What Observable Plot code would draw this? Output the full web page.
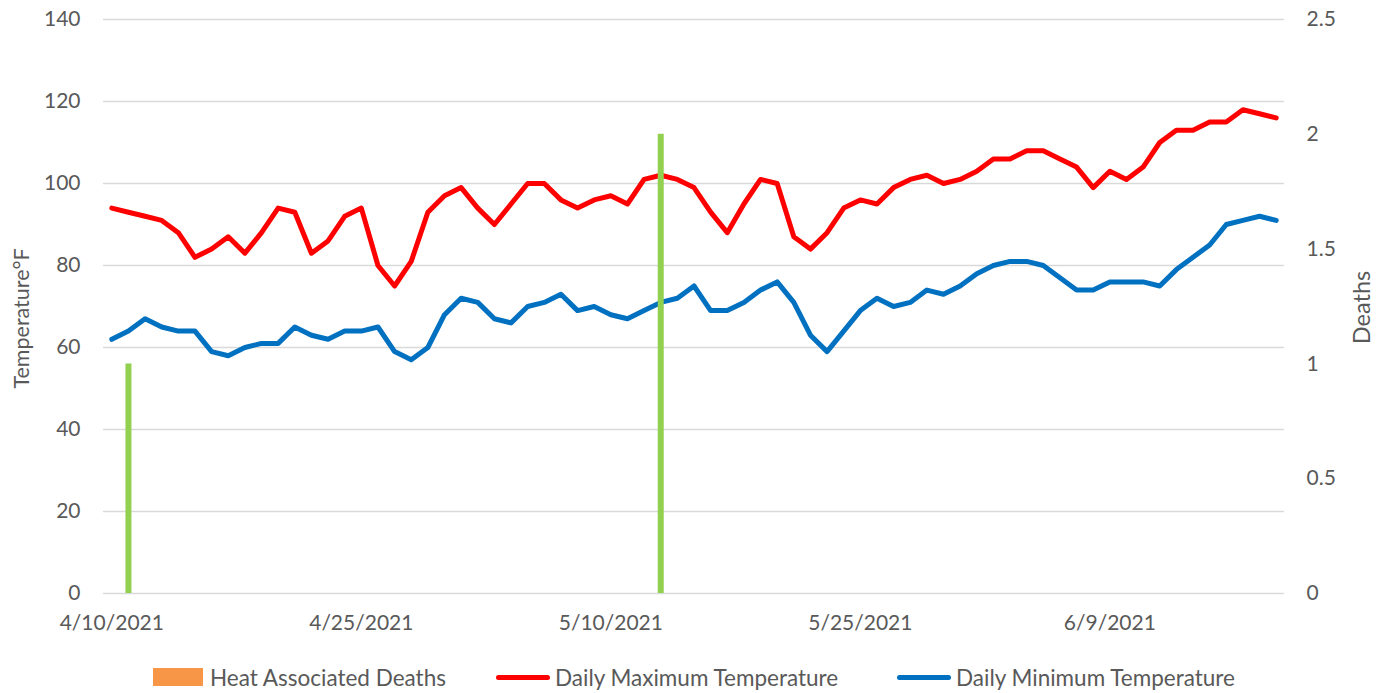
<!DOCTYPE html>
<html>
<head>
<meta charset="utf-8">
<script src="https://cdn.jsdelivr.net/npm/d3@7"></script>
<script src="https://cdn.jsdelivr.net/npm/@observablehq/plot@0.6"></script>
<style>
  body { margin: 0; background: #fff; font-family: Lato, "Open Sans", sans-serif; }
  #wrap { position: relative; width: 1387px; height: 693px; }
  .leg { position: absolute; top: 666px; height: 22px; display: flex; align-items: center; font-size: 22.5px; color: #595959; white-space: nowrap; }
  .sw-rect { width: 50px; height: 18px; margin-right: 7px; }
  .sw-line { width: 54px; height: 5px; border-radius: 3px; margin-right: 5px; }
</style>
</head>
<body>
<div id="wrap"></div>
<script>
// ---- data ----
const startDate = "2021-04-10";
const endDate = "2021-06-19";
const maxTemp = [94,93,92,91,88,82,84,87,83,88,94,93,83,86,92,94,80,75,81,
  93,97,99,94,90,95,100,100,96,94,96,97,95,101,102,101,99,93,88,95,101,
  100,87,84,88,94,96,95,99,101,102,100,101,103,106,106,108,108,106,104,99,
  103,101,104,110,113,113,115,115,118,117,116];
const minTemp = [62,64,67,65,64,64,59,58,60,61,61,65,63,62,64,64,65,59,57,
  60,68,72,71,67,66,70,71,73,69,70,68,67,69,71,72,75,69,69,71,74,
  76,71,63,59,64,69,72,70,71,74,73,75,78,80,81,81,80,77,74,74,
  76,76,76,75,79,82,85,90,91,92,91];
const deathDates = ["2021-04-11", "2021-05-13"];
const deathCounts = [1, 2];
const xTickDates = ["2021-04-10", "2021-04-25", "2021-05-10", "2021-05-25", "2021-06-09"];
const leftTicks = [0, 20, 40, 60, 80, 100, 120, 140];
const rightTicks = [0, 0.5, 1, 1.5, 2, 2.5];
const seriesNames = ["Heat Associated Deaths", "Daily Maximum Temperature", "Daily Minimum Temperature"];
const colors = { deaths: "#92D050", deathsLegend: "#F79646", max: "#FF0000", min: "#0070C0" };

// ---- build tables ----
const dates = d3.utcDay.range(new Date(startDate), d3.utcDay.offset(new Date(endDate), 1));
const tempRows = dates.flatMap((d, i) => [
  {date: d, temp: maxTemp[i], series: "max"},
  {date: d, temp: minTemp[i], series: "min"}
]);
const deathRows = deathDates.map((d, i) => ({date: new Date(d), deaths: deathCounts[i]}));
const k = 140 / 2.5; // deaths -> temperature axis factor
const fmt = d => `${d.getUTCMonth() + 1}/${d.getUTCDate()}/${d.getUTCFullYear()}`;

const chart = Plot.plot({
  width: 1387,
  height: 640,
  marginLeft: 103,
  marginRight: 103,
  marginTop: 19,
  marginBottom: 47,
  style: { fontFamily: "Lato, 'Open Sans', sans-serif", fontSize: "21px", color: "#595959", background: "#fff" },
  x: {
    type: "utc",
    domain: [d3.utcHour.offset(new Date(startDate), -12), d3.utcHour.offset(new Date(endDate), 12)]
  },
  y: { domain: [0, 140] },
  marks: [
    Plot.gridY(leftTicks, { stroke: "#D9D9D9", strokeOpacity: 1, strokeWidth: 1.5 }),
    Plot.axisX(xTickDates.map(d => new Date(d)), { tickSize: 0, tickPadding: 22, tickFormat: fmt, fill: "#595959", fontSize: 21, label: null }),
    Plot.axisY(leftTicks, { anchor: "left", tickSize: 0, tickPadding: 23, fill: "#595959", fontSize: 21, label: null }),
    Plot.axisY(rightTicks.map(v => v * k), { anchor: "right", tickSize: 0, tickPadding: 22, tickFormat: v => String(+(v / k).toFixed(1)), fill: "#595959", fontSize: 21, label: null }),
    Plot.text(["Temperature°F"], { frameAnchor: "left", textAnchor: "middle", dx: -81, dy: 12, rotate: -90, fill: "#595959", fontSize: 21.5 }),
    Plot.text(["Deaths"], { frameAnchor: "right", textAnchor: "middle", dx: 78, dy: 1, rotate: -90, fill: "#595959", fontSize: 23.5 }),
    Plot.line(tempRows.filter(r => r.series === "max"), { x: "date", y: "temp", stroke: colors.max, strokeWidth: 5, strokeLinejoin: "round", strokeLinecap: "round" }),
    Plot.line(tempRows.filter(r => r.series === "min"), { x: "date", y: "temp", stroke: colors.min, strokeWidth: 5, strokeLinejoin: "round", strokeLinecap: "round" }),
    Plot.ruleX(deathRows, { x: "date", y1: 0, y2: d => d.deaths * k, stroke: colors.deaths, strokeWidth: 6 })
  ]
});
const wrap = document.getElementById("wrap");
wrap.appendChild(chart);

// legend
const legendItems = [
  { name: seriesNames[0], kind: "rect", color: colors.deathsLegend, left: 153 },
  { name: seriesNames[1], kind: "line", color: colors.max, left: 496 },
  { name: seriesNames[2], kind: "line", color: colors.min, left: 897 }
];
for (const it of legendItems) {
  const el = document.createElement("div");
  el.className = "leg";
  el.style.left = it.left + "px";
  const sw = document.createElement("span");
  sw.className = it.kind === "rect" ? "sw-rect" : "sw-line";
  sw.style.background = it.color;
  el.appendChild(sw);
  const t = document.createElement("span");
  t.textContent = it.name;
  el.appendChild(t);
  wrap.appendChild(el);
}
</script>
</body>
</html>
